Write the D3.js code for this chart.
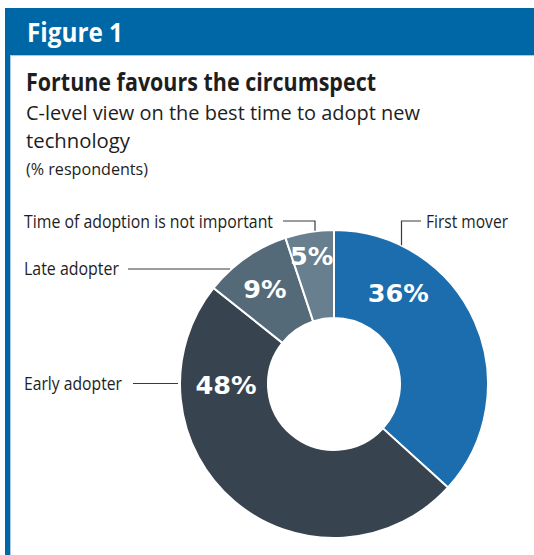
<!DOCTYPE html>
<html>
<head>
<meta charset="utf-8">
<script src="https://cdn.jsdelivr.net/npm/d3@7"></script>
<style>
  html, body { margin: 0; padding: 0; background: #fff; }
  svg { display: block; }
</style>
</head>
<body>
<script>
// Survey answers: C-level view on the best time to adopt new technology
const categories = ["First mover", "Early adopter", "Late adopter", "Time of adoption is not important"];
const shares = [36, 48, 9, 5];
const sliceColours = ["#1b6dad", "#37444f", "#556a78", "#687f8f"];

const W = 534, H = 555;
const brandBlue = "#0067a6";
const ink = "#1e1e1e";
const textFont = "'Open Sans', 'Noto Sans', sans-serif";

const svg = d3.select("body").append("svg")
  .attr("width", W).attr("height", H);

// Frame: header band and left rule
svg.append("rect").attr("x", 5).attr("y", 8).attr("width", W - 5).attr("height", 47).attr("fill", brandBlue);
svg.append("rect").attr("x", 5).attr("y", 55).attr("width", 5).attr("height", H - 55).attr("fill", brandBlue);
svg.append("rect").attr("x", 10).attr("y", 55).attr("width", W - 10).attr("height", 1).attr("fill", "#a9cbe3");
svg.append("rect").attr("x", 10).attr("y", 56).attr("width", 1).attr("height", H - 56).attr("fill", "#a9cbe3");

function fitText(sel, width) {
  return sel.attr("textLength", width).attr("lengthAdjust", "spacingAndGlyphs");
}

fitText(svg.append("text").attr("x", 27).attr("y", 42)
  .attr("font-family", textFont).attr("font-weight", 700).attr("font-size", 26.5)
  .attr("fill", "#fff").text("Figure 1"), 96);

fitText(svg.append("text").attr("x", 26).attr("y", 91)
  .attr("font-family", textFont).attr("font-weight", 700).attr("font-size", 24.5)
  .attr("fill", ink).text("Fortune favours the circumspect"), 350);

const subtitle = ["C-level view on the best time to adopt new", "technology"];
const subtitleWidths = [394, 104];
subtitle.forEach((line, i) => {
  fitText(svg.append("text").attr("x", 26).attr("y", 120 + i * 28)
    .attr("font-family", textFont).attr("font-size", 20.5)
    .attr("fill", ink).text(line), subtitleWidths[i]);
});

fitText(svg.append("text").attr("x", 26).attr("y", 175)
  .attr("font-family", textFont).attr("font-size", 16)
  .attr("fill", ink).text("(% respondents)"), 122);

// Donut
const cx = 334, cy = 384, outerR = 154, innerR = 66;
const pie = d3.pie().sort(null).value(d => d.value);
const arcs = pie(categories.map((c, i) => ({ name: c, value: shares[i], colour: sliceColours[i] })));
const arc = d3.arc().innerRadius(innerR).outerRadius(outerR);

const g = svg.append("g").attr("transform", `translate(${cx},${cy})`);
g.selectAll("path").data(arcs).join("path")
  .attr("d", arc)
  .attr("fill", d => d.data.colour)
  .attr("stroke", "#fff")
  .attr("stroke-width", 2)
  .attr("stroke-linejoin", "miter");

// Value labels: position within each slice (fraction of its sweep) and radius
const valuePlacement = [
  { t: 0.265, r: 112 },
  { t: 0.78, r: 108 },
  { t: 0.47, r: 118 },
  { t: 0.46, r: 130 }
];
g.selectAll("text.value").data(arcs).join("text")
  .attr("class", "value")
  .attr("x", (d, i) => {
    const a = d.startAngle + (d.endAngle - d.startAngle) * valuePlacement[i].t;
    return Math.sin(a) * valuePlacement[i].r;
  })
  .attr("y", (d, i) => {
    const a = d.startAngle + (d.endAngle - d.startAngle) * valuePlacement[i].t;
    return -Math.cos(a) * valuePlacement[i].r;
  })
  .attr("dy", "0.36em")
  .attr("text-anchor", "middle")
  .attr("font-family", "'DejaVu Sans', sans-serif")
  .attr("font-weight", 700)
  .attr("font-size", 25.5)
  .attr("fill", "#fff")
  .text(d => d.data.value + "%");

// Category labels with leader lines
const outerEdgeR = outerR - 1;
const labelLayout = [
  { x: 426, y: 227.5, width: 82, line: "elbowDown", lx: 421, ly: 221, ex: 401.5 },
  { x: 24, y: 389.5, width: 98, line: "flat", lx: 133, ly: 383.5 },
  { x: 24, y: 275, width: 95, line: "flat", lx: 128, ly: 269 },
  { x: 24, y: 227.5, width: 249, line: "elbowDown", lx: 283, ly: 221, ex: 315 }
];

categories.forEach((name, i) => {
  const L = labelLayout[i];
  fitText(svg.append("text").attr("x", L.x).attr("y", L.y)
    .attr("font-family", textFont).attr("font-size", 18)
    .attr("fill", ink).text(name), L.width);

  let pts;
  if (L.line === "flat") {
    const dy = L.ly - cy;
    const edgeX = cx - Math.sqrt(outerEdgeR * outerEdgeR - dy * dy) - 3;
    pts = [[L.lx, L.ly], [edgeX, L.ly]];
  } else {
    const dx = L.ex - cx;
    const edgeY = cy - Math.sqrt(outerEdgeR * outerEdgeR - dx * dx) - 1.5;
    pts = [[L.lx, L.ly], [L.ex, L.ly], [L.ex, edgeY]];
  }
  svg.append("path")
    .attr("d", d3.line()(pts))
    .attr("fill", "none")
    .attr("stroke", "#3a3a3a")
    .attr("stroke-width", 1.2);
});
</script>
</body>
</html>
